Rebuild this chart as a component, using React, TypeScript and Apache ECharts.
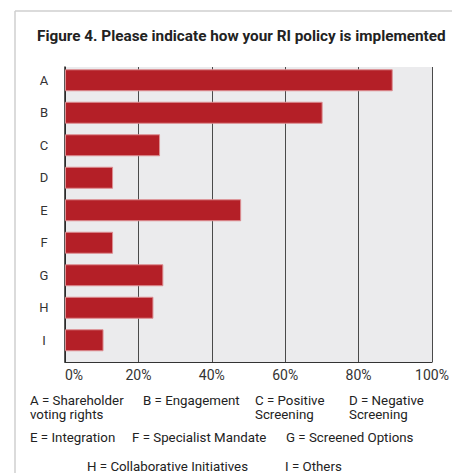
import React, { useEffect, useRef } from "react";
import * as echarts from "echarts";

const categories = ["A", "B", "C", "D", "E", "F", "G", "H", "I"];
const values = [89.3, 70.2, 25.9, 13.1, 48.0, 13.1, 26.8, 24.1, 10.5];
const xTicks = [0, 20, 40, 60, 80, 100];
const title = "Figure 4. Please indicate how your RI policy is implemented";
const legendLines: { text: string; x: number; y: number }[] = [
  { text: "A = Shareholder", x: 30, y: 400 },
  { text: "voting rights", x: 30, y: 414 },
  { text: "B = Engagement", x: 143, y: 400 },
  { text: "C = Positive", x: 255, y: 400 },
  { text: "Screening", x: 255, y: 414 },
  { text: "D = Negative", x: 349, y: 400 },
  { text: "Screening", x: 349, y: 414 },
  { text: "E = Integration", x: 30, y: 437 },
  { text: "F = Specialist Mandate", x: 132, y: 437 },
  { text: "G = Screened Options", x: 286, y: 437 },
  { text: "H = Collaborative Initiatives", x: 87, y: 466 },
  { text: "I = Others", x: 285, y: 466 },
];

const FONT = "Roboto, 'Noto Sans', sans-serif";

export default function App() {
  const ref = useRef<HTMLDivElement>(null);
  useEffect(() => {
    if (!ref.current) return;
    const chart = echarts.init(ref.current, undefined, { renderer: "svg" });
    const option: any = {
      animation: false,
      backgroundColor: "#ffffff",
      grid: [
        {
          left: 65,
          top: 67,
          width: 367,
          height: 295,
          show: true,
          backgroundColor: "#ebebed",
          borderWidth: 0,
        },
        {
          left: 65,
          top: 64,
          width: 367,
          height: 292.5,
        },
      ],
      xAxis: [
        {
          gridIndex: 0,
          type: "value",
          min: xTicks[0],
          max: xTicks[xTicks.length - 1],
          interval: 20,
          axisLine: { show: true, lineStyle: { color: "#333", width: 1.2 } },
          axisTick: { show: false },
          splitLine: { show: true, lineStyle: { color: "#4a4a4a", width: 1 } },
          axisLabel: {
            formatter: "{value}%",
            color: "#333",
            fontSize: 14,
            fontFamily: FONT,
            margin: 6,
            alignMinLabel: "left",
          },
        },
        {
          gridIndex: 1,
          type: "value",
          min: 0,
          max: 100,
          show: false,
        },
      ],
      yAxis: [
        {
          gridIndex: 0,
          type: "value",
          min: 0,
          max: 1,
          axisLine: { show: true, lineStyle: { color: "#222", width: 1.5 } },
          axisTick: { show: false },
          axisLabel: { show: false },
          splitLine: { show: false },
        },
        {
          gridIndex: 1,
          type: "category",
          data: categories,
          inverse: true,
          axisLine: { show: false },
          axisTick: { show: false },
          splitLine: { show: false },
          axisLabel: {
            color: "#333",
            fontSize: 13,
            fontFamily: FONT,
            align: "center",
            margin: 21,
          },
        },
      ],
      series: [
        {
          type: "bar",
          xAxisIndex: 1,
          yAxisIndex: 1,
          data: values,
          barWidth: 22,
          itemStyle: {
            color: "#b41f27",
            borderColor: "#dc8e92",
            borderWidth: 1,
          },
        },
      ],
      graphic: [
        {
          type: "line",
          shape: { x1: 15, y1: 11, x2: 15, y2: 473 },
          style: { stroke: "#cfcfcf", lineWidth: 1.5 },
        },
        {
          type: "line",
          shape: { x1: 15, y1: 11, x2: 452, y2: 11 },
          style: { stroke: "#cfcfcf", lineWidth: 1.5 },
        },
        {
          type: "text",
          x: 37,
          y: 36,
          style: {
            text: title,
            fill: "#222",
            font: `bold 15.3px ${FONT}`,
            textVerticalAlign: "middle",
          },
        },
        ...legendLines.map((l) => ({
          type: "text",
          x: l.x,
          y: l.y,
          style: {
            text: l.text,
            fill: "#222",
            font: `13.3px ${FONT}`,
            textVerticalAlign: "middle",
          },
        })),
      ],
    };
    chart.setOption(option);
    return () => chart.dispose();
  }, []);
  return (
    <div
      ref={ref}
      style={{ position: "fixed", left: 0, top: 0, width: 452, height: 473 }}
    />
  );
}
